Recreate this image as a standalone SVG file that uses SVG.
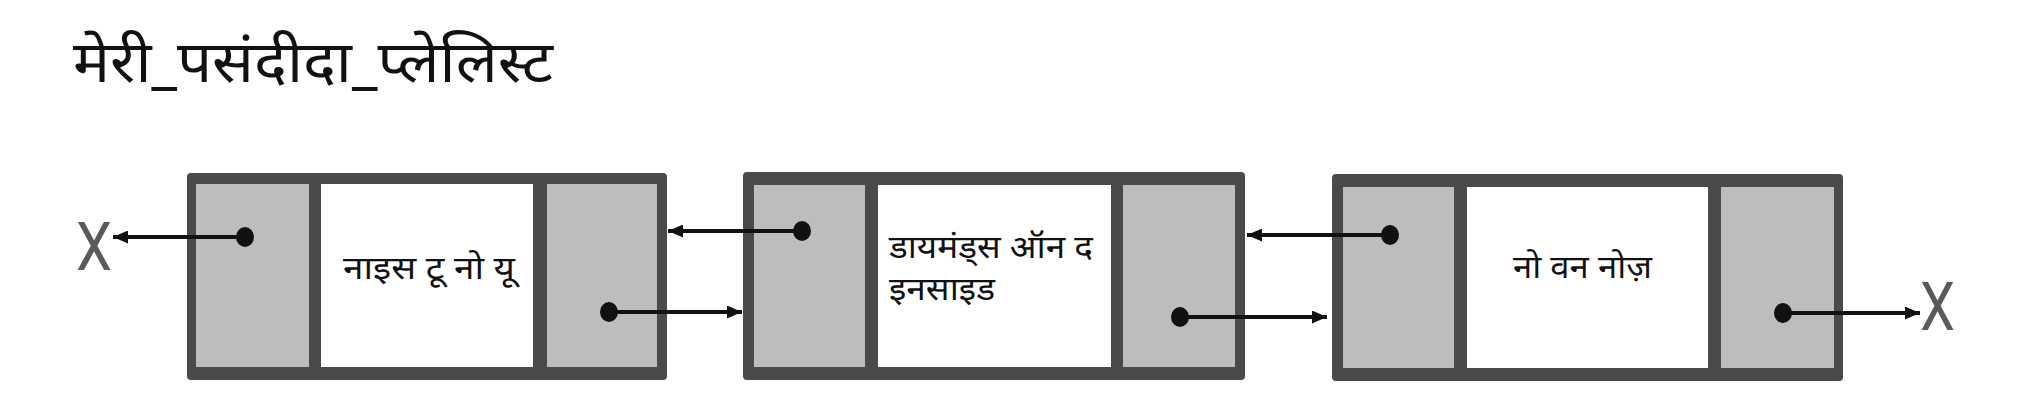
<svg xmlns="http://www.w3.org/2000/svg" width="2042" height="400" viewBox="0 0 2042 400">
<defs>
<style>
.frame{fill:#4a4a4a}
.cell{fill:#bdbdbd}
.data{fill:#ffffff}
.dev{font-family:"Noto Sans Devanagari","Noto Sans","Lohit Devanagari",sans-serif;fill:#111}
.nul{font-family:Roboto,"Liberation Sans",sans-serif;font-weight:400;fill:#5a5a5a;font-size:66px}
.link{stroke:#111;stroke-width:4;fill:none}
.dot{fill:#111}
</style>
<marker id="ah" viewBox="0 0 15 13" refX="15" refY="6.5" markerWidth="15" markerHeight="13" markerUnits="userSpaceOnUse" orient="auto">
<path d="M0,0 L15,6.5 L0,13 Z" fill="#111"/>
</marker>
</defs>
<rect width="2042" height="400" fill="#ffffff"/>
<text id="title" class="dev" x="73" y="82" font-size="58" textLength="480" lengthAdjust="spacingAndGlyphs">मेरी_पसंदीदा_प्लेलिस्ट</text>
<text id="null-left" class="nul" x="76" y="270" textLength="36" lengthAdjust="spacingAndGlyphs">X</text>
<text id="null-right" class="nul" x="1920" y="330" textLength="35" lengthAdjust="spacingAndGlyphs">X</text>
<g id="node1">
<rect class="frame" x="187" y="173" width="480" height="207" rx="4"/>
<rect class="cell" x="196" y="184" width="113" height="183"/>
<rect class="data" x="321" y="184" width="212" height="183"/>
<rect class="cell" x="547" y="184" width="110" height="183"/>
<text class="dev" x="343" y="279" font-size="32" textLength="172" lengthAdjust="spacingAndGlyphs">नाइस टू नो यू</text>
</g>
<g id="node2">
<rect class="frame" x="743" y="172" width="502" height="208" rx="4"/>
<rect class="cell" x="754" y="185" width="111" height="182"/>
<rect class="data" x="878" y="185" width="233" height="182"/>
<rect class="cell" x="1123" y="185" width="112" height="182"/>
<text class="dev" x="889" y="258" font-size="32" textLength="204" lengthAdjust="spacingAndGlyphs">डायमंड्स ऑन द</text>
<text class="dev" x="889" y="300" font-size="32" textLength="106" lengthAdjust="spacingAndGlyphs">इनसाइड</text>
</g>
<g id="node3">
<rect class="frame" x="1332" y="174" width="511" height="207" rx="4"/>
<rect class="cell" x="1343" y="187" width="111" height="181"/>
<rect class="data" x="1467" y="187" width="241" height="181"/>
<rect class="cell" x="1721" y="187" width="113" height="181"/>
<text class="dev" x="1513" y="278" font-size="32" textLength="139" lengthAdjust="spacingAndGlyphs">नो वन नोज़</text>
</g>
<g id="connectors">
<line class="link" x1="245" y1="237" x2="113" y2="237" marker-end="url(#ah)"/>
<ellipse class="dot" cx="245" cy="237" rx="9" ry="10"/>
<line class="link" x1="609" y1="312" x2="742" y2="312" marker-end="url(#ah)"/>
<ellipse class="dot" cx="609" cy="312" rx="9" ry="10"/>
<line class="link" x1="802" y1="231" x2="668" y2="231" marker-end="url(#ah)"/>
<ellipse class="dot" cx="802" cy="231" rx="9" ry="10"/>
<line class="link" x1="1180" y1="317" x2="1327" y2="317" marker-end="url(#ah)"/>
<ellipse class="dot" cx="1180" cy="317" rx="9" ry="10"/>
<line class="link" x1="1390" y1="235" x2="1247" y2="235" marker-end="url(#ah)"/>
<ellipse class="dot" cx="1390" cy="235" rx="9" ry="10"/>
<line class="link" x1="1783" y1="313" x2="1920" y2="313" marker-end="url(#ah)"/>
<ellipse class="dot" cx="1783" cy="313" rx="9" ry="10"/>
</g>
</svg>
